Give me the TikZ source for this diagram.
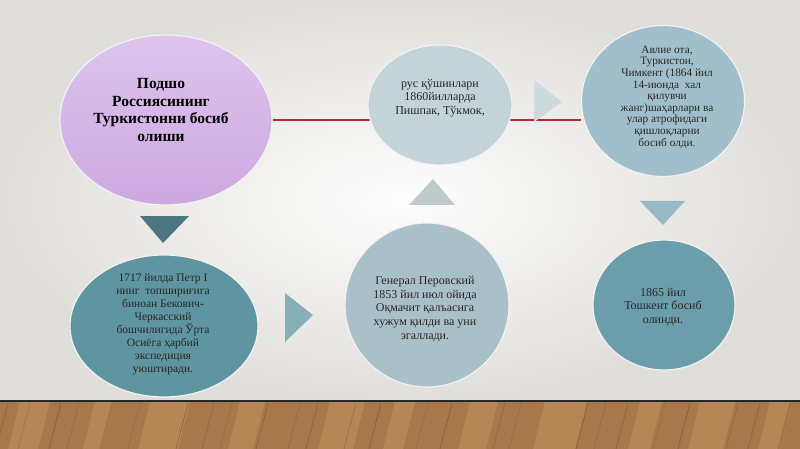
\documentclass[tikz,border=0pt]{standalone}
\usepackage{fontspec}
\setmainfont{Liberation Serif}
\usetikzlibrary{shapes.geometric,backgrounds}
\definecolor{wallgrey}{HTML}{E0DEDA}
\definecolor{woodbrown}{HTML}{A8784A}
\definecolor{wooddark}{HTML}{6E4A28}
\definecolor{woodlight}{HTML}{C99A64}
\definecolor{linkred}{HTML}{B02A3C}
\definecolor{lilac}{HTML}{DEC4EE}
\definecolor{lilacdeep}{HTML}{CDA8E0}
\definecolor{palesteel}{HTML}{C4D3D8}
\definecolor{skysteel}{HTML}{A1BFCA}
\definecolor{tealsteel}{HTML}{5F95A0}
\definecolor{greysteel}{HTML}{AAC0C8}
\definecolor{midsteel}{HTML}{6C9DAA}
\tikzset{
  disc/.style = {ellipse, inner sep=0pt, draw=white!90!gray, line width=1.2pt},
  disctext/.style = {align=center, inner sep=0pt, text=black!85,
    font=\fontsize{12}{13.6}\selectfont},
  smalltext/.style = {disctext, font=\fontsize{11.3}{11.6}\selectfont},
  headtext/.style = {disctext, text=black, font=\bfseries\fontsize{15.5}{17.8}\selectfont},
  redline/.style = {draw=linkred, line width=1.3pt},
}

\begin{document}
\begin{tikzpicture}[x=1pt,y=-1pt]
  \useasboundingbox (0,0) rectangle (800,449);
  \begin{scope}[on background layer]
    \shade[inner color=white!96!wallgrey, outer color=wallgrey] (0,0) rectangle (800,401);
    \fill[woodbrown] (0,401) rectangle (800,449);
    \foreach \x/\w in {20/30,95/18,150/40,240/25,330/35,395/20,470/28,545/42,640/22,700/35,770/20}
      \fill[woodlight, opacity=0.45] (\x,401) -- (\x+\w,401) -- (\x+\w-12,449) -- (\x-12,449) -- cycle;
    \foreach \x/\o in {8/.5,30/.3,61/.6,79/.35,112/.5,140/.3,188/.6,214/.4,232/.3,268/.55,300/.35,318/.5,356/.4,381/.6,428/.3,452/.55,505/.4,521/.3,588/.55,606/.35,628/.45,665/.3,690/.6,738/.4,760/.5,790/.35}
      \draw[wooddark, line width=0.6pt, opacity=\o] (\x,403) -- (\x-12,449);
    \draw[black!85, line width=1.5pt] (0,401) -- (800,401);
  \end{scope}

  \node[disc, top color=lilac, bottom color=lilacdeep, minimum width=212pt, minimum height=170pt] (podsho) at (166,120) {};
  \node[disc, fill=palesteel, minimum width=144pt, minimum height=120pt] (rus) at (440,105) {};
  \node[disc, fill=skysteel, minimum width=163pt, minimum height=151pt] (avlie) at (663,101) {};
  \node[disc, fill=tealsteel, minimum width=188pt, minimum height=142pt] (petr) at (164,326) {};
  \node[disc, fill=greysteel, minimum width=164pt, minimum height=164pt] (perovsky) at (427,305) {};
  \node[disc, fill=midsteel, minimum width=142pt, minimum height=130pt] (toshkent) at (664,305) {};

  \node[headtext] (podsho-t) at (161,110) {Подшо\\Россиясининг\\Туркистонни босиб\\олиши};
  \node[disctext] (rus-t) at (440,98) {рус қўшинлари\\1860йилларда\\Пишпак, Тўкмок,};
  \node[smalltext] (avlie-t) at (667,97) {Авлие ота,\\Туркистон,\\Чимкент (1864 йил\\14-июнда \ хал\\қилувчи\\жанг)шаҳарлари ва\\улар атрофидаги\\қишлоқларни\\босиб олди.};
  \node[disctext, font=\fontsize{11.5}{13}\selectfont] (petr-t) at (163,324) {1717 йилда Петр I\\нинг \ топшириғига\\биноан Бекович-\\Черкасский\\бошчилигида Ўрта\\Осиёга ҳарбий\\экспедиция\\уюштиради.};
  \node[disctext] (perovsky-t) at (425,309) {Генерал Перовский\\1853 йил июл ойида\\Оқмачит қалъасига\\хужум қилди ва уни\\эгаллади.};
  \node[disctext] (toshkent-t) at (663,307) {1865 йил\\Тошкент босиб\\олинди.};

  \begin{scope}[on background layer]
    \path[redline] (podsho.east) -- (podsho.east -| avlie.west);
  \end{scope}

  \fill[tealsteel!80!black] (140,216) -- (189,216) -- (163,243) -- cycle;
  \fill[tealsteel!75!white] (285,293) -- (313,315) -- (285,342) -- cycle;
  \fill[palesteel!90!gray] (409,205) -- (455,205) -- (433,179) -- cycle;
  \fill[palesteel!85!white] (534,80) -- (562,102) -- (534,122) -- cycle;
  \fill[skysteel!85!tealsteel] (640,201) -- (685,201) -- (663,225) -- cycle;
\end{tikzpicture}
\end{document}
